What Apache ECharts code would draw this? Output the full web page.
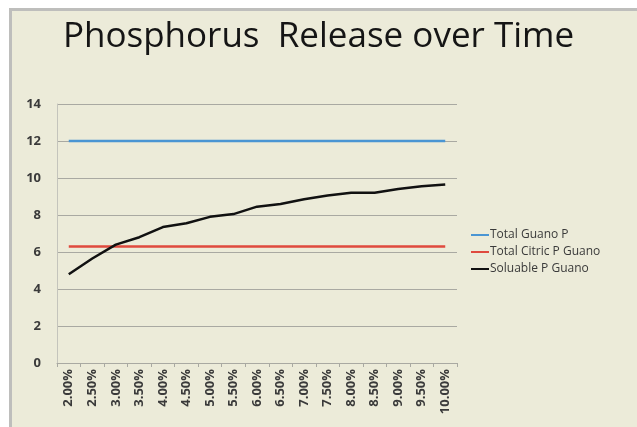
<!DOCTYPE html>
<html>
<head>
<meta charset="utf-8">
<script src="https://cdn.jsdelivr.net/npm/echarts@6/dist/echarts.min.js"></script>
<style>
  html, body { margin: 0; padding: 0; background: #fff; }
  #frame {
    position: absolute; left: 9px; top: 8px; width: 628px; height: 419px;
    background: #ECEBD9; border-left: 3px solid #BEBEBC; border-top: 3px solid #BEBEBC;
  }
  #main { position: absolute; left: 0; top: 0; width: 637px; height: 427px; }
</style>
</head>
<body>
<div id="frame"></div>
<div id="main"></div>
<script>
// release rate categories
var xData = ['2.00%','2.50%','3.00%','3.50%','4.00%','4.50%','5.00%','5.50%','6.00%',
             '6.50%','7.00%','7.50%','8.00%','8.50%','9.00%','9.50%','10.00%'];
var totalGuano = [12,12,12,12,12,12,12,12,12,12,12,12,12,12,12,12,12];
var totalCitric = [6.3,6.3,6.3,6.3,6.3,6.3,6.3,6.3,6.3,6.3,6.3,6.3,6.3,6.3,6.3,6.3,6.3];
var soluable = [4.8,5.65,6.4,6.8,7.35,7.55,7.9,8.05,8.45,8.6,8.85,9.05,9.2,9.2,9.4,9.55,9.65];

var chart = echarts.init(document.getElementById('main'));

function line(name, data, color) {
  return {
    name: name,
    type: 'line',
    data: data,
    symbol: 'none',
    lineStyle: { color: color, width: 2.5 },
    itemStyle: { color: color }
  };
}

var option = {
  backgroundColor: 'transparent',
  animation: false,
  title: {
    text: 'Phosphorus  Release over Time',
    left: 'center',
    top: 15,
    textStyle: { fontFamily: 'Open Sans', fontSize: 35, fontWeight: 'normal', color: '#151515' }
  },
  legend: {
    orient: 'vertical',
    left: 466,
    top: 224,
    itemWidth: 18,
    itemHeight: 2,
    itemGap: 5,
    icon: 'rect',
    textStyle: { fontFamily: 'Open Sans', fontSize: 12, color: '#3a3a3a', padding: [0, 0, 0, -4] },
    data: ['Total Guano P', 'Total Citric P Guano', 'Soluable P Guano']
  },
  grid: { left: 57, right: 180, top: 104, bottom: 64 },
  xAxis: {
    type: 'category',
    data: xData,
    boundaryGap: true,
    axisLine: { lineStyle: { color: '#A9A9A2' } },
    axisTick: { show: true, length: 4, lineStyle: { color: '#A9A9A2' } },
    axisLabel: { rotate: 90, fontFamily: 'Open Sans', fontSize: 13, fontWeight: 'bold', color: '#3a3a3a', margin: 6 }
  },
  yAxis: {
    type: 'value',
    min: 0,
    max: 14,
    interval: 2,
    axisLine: { show: true, lineStyle: { color: '#C4C4BC' } },
    axisTick: { show: false },
    axisLabel: { fontFamily: 'Open Sans', fontSize: 13, fontWeight: 'bold', color: '#3a3a3a', margin: 16 },
    splitLine: { lineStyle: { color: '#A9A9A2', width: 1 } }
  },
  series: [
    line('Total Guano P', totalGuano, '#4A95D3'),
    line('Total Citric P Guano', totalCitric, '#DF4A3E'),
    line('Soluable P Guano', soluable, '#111111')
  ]
};

chart.setOption(option);
</script>
</body>
</html>
